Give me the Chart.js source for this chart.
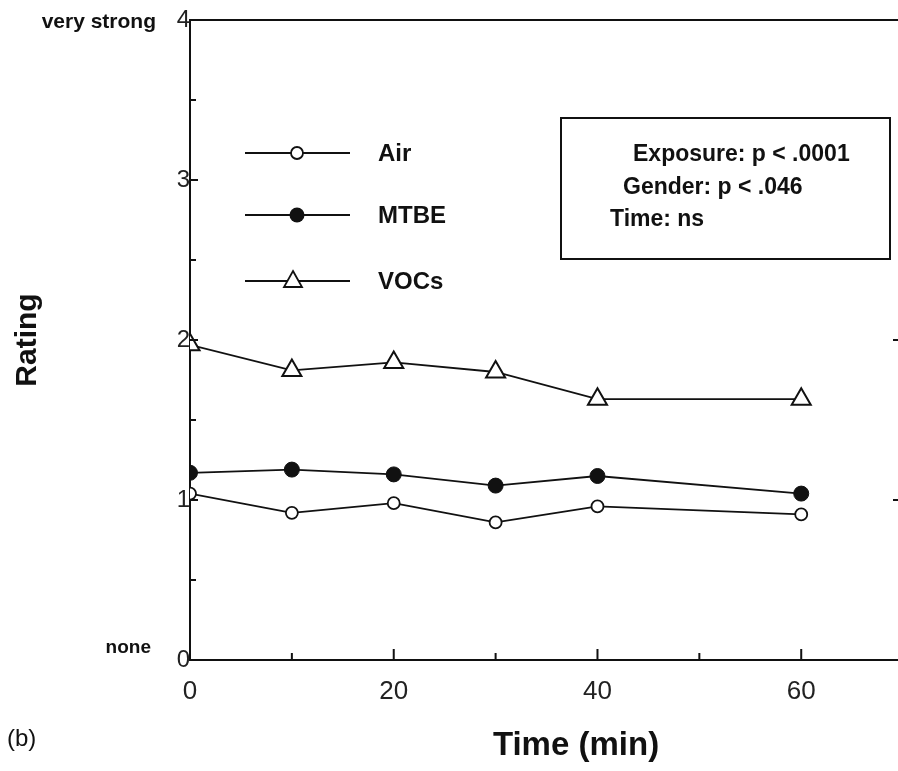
<!DOCTYPE html>
<html>
<head>
<meta charset="utf-8">
<script src="https://cdn.jsdelivr.net/npm/chart.js@4"></script>
<style>
  html, body { margin: 0; padding: 0; background: #fff; overflow: hidden; }
  canvas { display: block; }
</style>
</head>
<body>
<canvas id="chart" width="898" height="771"></canvas>
<script>
// values (rating vs. time)
const times = [0, 10, 20, 30, 40, 60];
const air = [1.04, 0.92, 0.98, 0.86, 0.96, 0.91];
const mtbe = [1.17, 1.19, 1.16, 1.09, 1.15, 1.04];
const vocs = [1.97, 1.81, 1.86, 1.80, 1.63, 1.63];
const seriesNames = ['Air', 'MTBE', 'VOCs'];
const yTicks = [0, 1, 2, 3, 4];
const xTicks = [0, 20, 40, 60];
const statLines = ['Exposure: p < .0001', 'Gender: p < .046', 'Time: ns'];

const FONT = '"Liberation Sans", Arial, sans-serif';
const INK = '#111';

function pts(vals) {
    return times.map((t, i) => ({ x: t, y: vals[i] }));
}

function marker(ctx, style, x, y) {
    ctx.beginPath();
    if (style === 'open') {
        ctx.fillStyle = '#fff';
        ctx.arc(x, y, 6, 0, Math.PI * 2);
        ctx.fill(); ctx.stroke();
    } else if (style === 'filled') {
        ctx.fillStyle = INK;
        ctx.arc(x, y, 7.5, 0, Math.PI * 2);
        ctx.fill();
    } else {
        ctx.fillStyle = '#fff';
        ctx.moveTo(x, y - 10);
        ctx.lineTo(x + 9, y + 6);
        ctx.lineTo(x - 9, y + 6);
        ctx.closePath();
        ctx.fill(); ctx.stroke();
    }
}

const decor = {
    id: 'decor',
    afterDraw(chart) {
        const ctx = chart.ctx;
        const a = chart.chartArea;
        const x = chart.scales.x, y = chart.scales.y;
        ctx.save();
        ctx.strokeStyle = INK;
        ctx.lineWidth = 2.2;

        // top frame line
        ctx.beginPath();
        ctx.moveTo(a.left, a.top);
        ctx.lineTo(chart.width, a.top);
        ctx.stroke();

        // inward ticks
        ctx.lineWidth = 2;
        ctx.beginPath();
        for (let v = 0.5; v < 4; v += 0.5) {
            const py = y.getPixelForValue(v);
            ctx.moveTo(a.left, py);
            ctx.lineTo(a.left + (v % 1 === 0 ? 8 : 6), py);
        }
        for (let v = 10; v <= 60; v += 10) {
            const px = x.getPixelForValue(v);
            ctx.moveTo(px, a.bottom);
            ctx.lineTo(px, a.bottom - (v % 20 === 0 ? 11 : 7));
        }
        // right-hand axis ticks just at the picture edge
        [1, 2].forEach(v => {
            const py = y.getPixelForValue(v);
            ctx.moveTo(chart.width, py);
            ctx.lineTo(chart.width - 5, py);
        });
        ctx.stroke();

        ctx.fillStyle = INK;
        ctx.textBaseline = 'middle';
        ctx.textAlign = 'right';
        ctx.font = 'bold 21px ' + FONT;
        ctx.fillText('very strong', 156, y.getPixelForValue(4) + 2);
        ctx.font = 'bold 19px ' + FONT;
        ctx.fillText('none', 151, y.getPixelForValue(0) - 12);

        ctx.textAlign = 'left';
        ctx.font = '24px ' + FONT;
        ctx.fillText('(b)', 7, 739);

        ctx.textAlign = 'center';
        ctx.font = 'bold 33px ' + FONT;
        ctx.fillText('Time (min)', 576, 746);

        // legend
        const legendY = [153, 215, 281];
        const styles = ['open', 'filled', 'tri'];
        ctx.lineWidth = 1.8;
        legendY.forEach((ly, i) => {
            ctx.strokeStyle = INK;
            ctx.beginPath();
            ctx.moveTo(245, ly);
            ctx.lineTo(350, ly);
            ctx.stroke();
            marker(ctx, styles[i], i === 2 ? 293 : 297, ly);
            ctx.fillStyle = INK;
            ctx.textAlign = 'left';
            ctx.font = 'bold 24px ' + FONT;
            ctx.fillText(seriesNames[i], 378, ly + 1);
        });

        // statistics box
        ctx.lineWidth = 2;
        ctx.strokeRect(561, 118, 329, 141);
        ctx.font = 'bold 23px ' + FONT;
        ctx.textAlign = 'left';
        const sx = [633, 623, 610], sy = [155, 188, 220];
        statLines.forEach((s, i) => ctx.fillText(s, sx[i], sy[i]));
        ctx.restore();
    }
};

Chart.register(decor);

new Chart(document.getElementById('chart'), {
    type: 'line',
    data: {
        datasets: [
            {
                label: seriesNames[0],
                data: pts(air),
                borderColor: INK,
                borderWidth: 1.8,
                pointStyle: 'circle',
                pointRadius: 6,
                pointBackgroundColor: '#fff',
                pointBorderColor: INK,
                pointBorderWidth: 1.8
            },
            {
                label: seriesNames[1],
                data: pts(mtbe),
                borderColor: INK,
                borderWidth: 1.8,
                pointStyle: 'circle',
                pointRadius: 7.5,
                pointBackgroundColor: INK,
                pointBorderColor: INK,
                pointBorderWidth: 1
            },
            {
                label: seriesNames[2],
                data: pts(vocs),
                borderColor: INK,
                borderWidth: 1.8,
                pointStyle: 'triangle',
                pointRadius: 11,
                pointBackgroundColor: '#fff',
                pointBorderColor: INK,
                pointBorderWidth: 2
            }
        ]
    },
    options: {
        responsive: false,
        animation: false,
        layout: { autoPadding: false, padding: { top: 20, right: 0, left: 0, bottom: 0 } },
        plugins: {
            legend: { display: false },
            tooltip: { enabled: false }
        },
        scales: {
            x: {
                type: 'linear',
                min: 0,
                max: 69.5,
                afterFit: (s) => { s.height = 111; s.paddingRight = 0; s.paddingLeft = 0; },
                afterBuildTicks: (s) => { s.ticks = xTicks.map(v => ({ value: v })); },
                grid: { display: false, drawTicks: false },
                border: { display: true, color: INK, width: 2 },
                ticks: {
                    padding: 16,
                    color: '#222',
                    font: { family: FONT, size: 26 }
                }
            },
            y: {
                min: 0,
                max: 4,
                afterFit: (s) => { s.width = 190; },
                afterBuildTicks: (s) => { s.ticks = yTicks.map(v => ({ value: v })); },
                grid: { display: false, drawTicks: false },
                border: { display: true, color: INK, width: 2 },
                title: {
                    display: true,
                    text: 'Rating',
                    color: INK,
                    padding: { top: 10, bottom: 0 },
                    font: { family: FONT, size: 30, weight: 'bold' }
                },
                ticks: {
                    padding: 0,
                    color: '#222',
                    font: { family: FONT, size: 24 }
                }
            }
        }
    }
});
</script>
</body>
</html>
